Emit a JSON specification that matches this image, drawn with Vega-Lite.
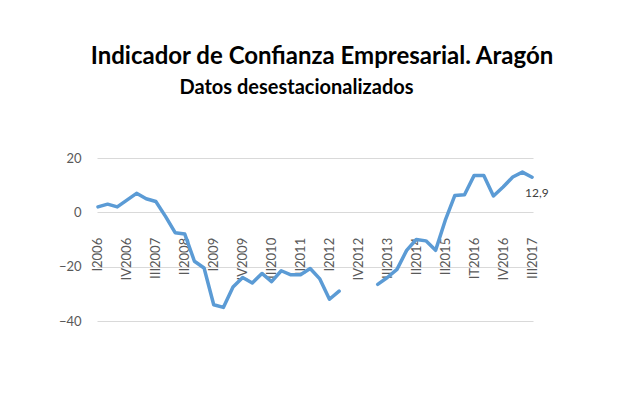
{
  "$schema": "https://vega.github.io/schema/vega-lite/v6.json",
  "width": 436,
  "height": 163,
  "autosize": "none",
  "padding": {"left": 97, "top": 158, "right": 97, "bottom": 79},
  "background": "white",
  "config": {
    "font": "Lato",
    "view": {"stroke": null},
    "locale": {"number": {"decimal": ",", "thousands": ".", "grouping": [3], "currency": ["", " €"]}}
  },
  "title": {
    "text": "Indicador de Confianza Empresarial. Aragón",
    "anchor": "middle",
    "frame": "group",
    "dx": 7,
    "offset": 8,
    "font": "Lato",
    "fontSize": 24,
    "fontWeight": "bold",
    "color": "#000000"
  },
  "data": {
    "values": [
      {"trimestre": "I2006", "valor": 2},
      {"trimestre": "II2006", "valor": 3},
      {"trimestre": "III2006", "valor": 2},
      {"trimestre": "IV2006", "valor": 4.5},
      {"trimestre": "I2007", "valor": 7},
      {"trimestre": "II2007", "valor": 5},
      {"trimestre": "III2007", "valor": 4},
      {"trimestre": "IV2007", "valor": -1.5},
      {"trimestre": "I2008", "valor": -7.5},
      {"trimestre": "II2008", "valor": -8},
      {"trimestre": "III2008", "valor": -18},
      {"trimestre": "IV2008", "valor": -20.5},
      {"trimestre": "I2009", "valor": -34},
      {"trimestre": "II2009", "valor": -35},
      {"trimestre": "III2009", "valor": -27.5},
      {"trimestre": "IV2009", "valor": -24},
      {"trimestre": "I2010", "valor": -26},
      {"trimestre": "II2010", "valor": -22.5},
      {"trimestre": "III2010", "valor": -25.5},
      {"trimestre": "IV2010", "valor": -21.5},
      {"trimestre": "I2011", "valor": -23},
      {"trimestre": "II2011", "valor": -23},
      {"trimestre": "III2011", "valor": -20.7},
      {"trimestre": "IV2011", "valor": -24.5},
      {"trimestre": "I2012", "valor": -32},
      {"trimestre": "II2012", "valor": -29},
      {"trimestre": "III2012", "valor": null},
      {"trimestre": "IV2012", "valor": null},
      {"trimestre": "I2013", "valor": null},
      {"trimestre": "II2013", "valor": -26.5},
      {"trimestre": "III2013", "valor": -24},
      {"trimestre": "IV2013", "valor": -21},
      {"trimestre": "I2014", "valor": -14},
      {"trimestre": "II2014", "valor": -10},
      {"trimestre": "III2014", "valor": -10.5},
      {"trimestre": "I2015", "valor": -14},
      {"trimestre": "II2015", "valor": -3},
      {"trimestre": "III2015", "valor": 6.2},
      {"trimestre": "IV2015", "valor": 6.5},
      {"trimestre": "IT2016", "valor": 13.6},
      {"trimestre": "II2016", "valor": 13.6},
      {"trimestre": "III2016", "valor": 6},
      {"trimestre": "IV2016", "valor": 9.3},
      {"trimestre": "I2017", "valor": 13},
      {"trimestre": "II2017", "valor": 14.8},
      {"trimestre": "III2017", "valor": 12.9}
    ]
  },
  "encoding": {
    "x": {
      "field": "trimestre",
      "type": "ordinal",
      "sort": null,
      "scale": {"type": "point", "padding": 0.1},
      "axis": {
        "title": null,
        "values": ["I2006", "IV2006", "III2007", "II2008", "I2009", "IV2009", "III2010", "II2011", "I2012", "IV2012", "III2013", "II2014", "II2015", "IT2016", "IV2016", "III2017"],
        "offset": -108.7,
        "domain": false,
        "ticks": false,
        "grid": false,
        "labelAngle": -90,
        "labelAlign": "right",
        "labelBaseline": "middle",
        "labelPadding": 25,
        "labelFontSize": 13,
        "labelColor": "#595959",
        "labelFont": "Lato"
      }
    },
    "y": {
      "field": "valor",
      "type": "quantitative",
      "scale": {"domain": [-40, 20], "nice": false, "zero": false},
      "axis": {
        "title": "Datos desestacionalizados",
        "titleAngle": 0,
        "titleX": 199,
        "titleY": -65,
        "titleAlign": "center",
        "titleBaseline": "alphabetic",
        "titleFont": "Lato",
        "titleFontSize": 20,
        "titleFontWeight": "bold",
        "titleColor": "#000000",
        "values": [-40, -20, 0, 20],
        "domain": false,
        "ticks": false,
        "grid": true,
        "gridColor": "#d9d9d9",
        "gridWidth": 1,
        "labelPadding": 16,
        "labelFontSize": 13,
        "labelColor": "#595959",
        "labelFont": "Lato"
      }
    }
  },
  "layer": [
    {
      "mark": {
        "type": "line",
        "color": "#5b9bd5",
        "strokeWidth": 3.5,
        "strokeJoin": "round",
        "strokeCap": "round",
        "invalid": "break-paths-show-domains"
      }
    },
    {
      "transform": [{"filter": "datum.trimestre == 'III2017'"}],
      "mark": {
        "type": "text",
        "align": "left",
        "baseline": "middle",
        "dx": -7,
        "dy": 16,
        "fontSize": 12,
        "color": "#404040",
        "font": "Lato"
      },
      "encoding": {
        "text": {"field": "valor", "type": "quantitative", "format": ".1f"}
      }
    }
  ]
}
